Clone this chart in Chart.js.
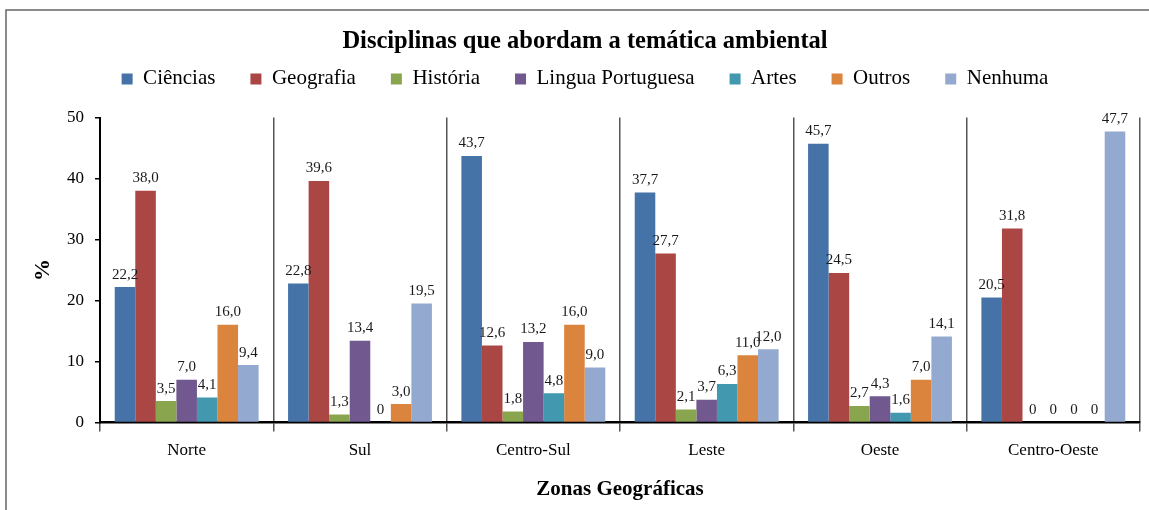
<!DOCTYPE html>
<html>
<head>
<meta charset="utf-8">
<script src="https://cdn.jsdelivr.net/npm/chart.js@4"></script>
<style>
  body { margin: 0; background: #fff; }
  #wrap { width: 1149px; height: 510px; position: relative; }
</style>
</head>
<body>
<div id="wrap"><canvas id="myChart" width="1149" height="510"></canvas></div>
<script>
const zonas = ['Norte', 'Sul', 'Centro-Sul', 'Leste', 'Oeste', 'Centro-Oeste'];
const ciencias = [22.2, 22.8, 43.7, 37.7, 45.7, 20.5];
const geografia = [38.0, 39.6, 12.6, 27.7, 24.5, 31.8];
const historia = [3.5, 1.3, 1.8, 2.1, 2.7, 0];
const linguaPortuguesa = [7.0, 13.4, 13.2, 3.7, 4.3, 0];
const artes = [4.1, 0, 4.8, 6.3, 1.6, 0];
const outros = [16.0, 3.0, 16.0, 11.0, 7.0, 0];
const nenhuma = [9.4, 19.5, 9.0, 12.0, 14.1, 47.7];
const yTicks = [0, 10, 20, 30, 40, 50];

const serif = 'Liberation Serif';

// frame around the whole chart
const framePlugin = {
  id: 'frame',
  beforeDraw(chart) {
    const c = chart.ctx;
    c.save();
    c.fillStyle = '#fff';
    c.fillRect(0, 0, chart.width, chart.height);
    c.strokeStyle = '#666';
    c.lineWidth = 1.5;
    c.strokeRect(6, 10, chart.width + 10, chart.height + 10);
    c.restore();
  }
};

// value labels above bars
const labelPlugin = {
  id: 'valueLabels',
  afterDatasetsDraw(chart) {
    const c = chart.ctx;
    c.save();
    c.font = '15px "' + serif + '"';
    c.fillStyle = '#1a1a1a';
    c.textAlign = 'center';
    c.textBaseline = 'bottom';
    chart.data.datasets.forEach((ds, i) => {
      chart.getDatasetMeta(i).data.forEach((bar, j) => {
        const v = ds.data[j];
        const txt = v === 0 ? '0' : v.toFixed(1).replace('.', ',');
        c.fillText(txt, bar.x, bar.y - 5);
      });
    });
    c.restore();
  }
};

function ds(label, data, color) {
  return { label: label, data: data, backgroundColor: color, borderWidth: 0 };
}

let ctx = document.getElementById('myChart');
let myChart = new Chart(ctx, {
  type: 'bar',
  data: {
    labels: zonas,
    datasets: [
      ds('Ciências', ciencias, '#4572A7'),
      ds('Geografia', geografia, '#AA4643'),
      ds('História', historia, '#89A54E'),
      ds('Lingua Portuguesa', linguaPortuguesa, '#71588F'),
      ds('Artes', artes, '#4198AF'),
      ds('Outros', outros, '#DB843D'),
      ds('Nenhuma', nenhuma, '#93A9CF')
    ]
  },
  options: {
    responsive: false,
    animation: false,
    devicePixelRatio: 1,
    categoryPercentage: 0.83,
    barPercentage: 1,
    layout: { padding: { top: 27, right: 9, bottom: 8, left: 30 } },
    plugins: {
      title: {
        display: true,
        text: 'Disciplinas que abordam a temática ambiental',
        color: '#000',
        font: { family: serif, size: 24.5, weight: 'bold' },
        padding: { top: 0, bottom: -23 }
      },
      // empty spacer between legend and plot
      subtitle: {
        display: true,
        text: ' ',
        weight: 500,
        font: { size: 1 },
        padding: { top: 17, bottom: 0 }
      },
      legend: {
        position: 'top',
        labels: {
          color: '#000',
          font: { family: serif, size: 21 },
          boxWidth: 11,
          boxHeight: 11,
          padding: 35
        }
      },
      tooltip: { enabled: false }
    },
    scales: {
      x: {
        grid: {
          offset: true,
          color: '#555',
          lineWidth: 1.5,
          drawTicks: true,
          tickLength: 9
        },
        border: { color: '#000', width: 2.5 },
        ticks: {
          color: '#000',
          font: { family: serif, size: 17 },
          padding: 9
        },
        title: {
          display: true,
          text: 'Zonas Geográficas',
          color: '#000',
          font: { family: serif, size: 21, weight: 'bold' },
          padding: { top: 7, bottom: 0 }
        }
      },
      y: {
        min: 0,
        max: 50,
        afterBuildTicks(scale) {
          scale.ticks = yTicks.map(v => ({ value: v }));
        },
        afterFit(scale) { scale.width = 70; },
        grid: {
          drawOnChartArea: false,
          color: '#000',
          lineWidth: 1.5,
          tickLength: 5
        },
        border: { color: '#000', width: 2 },
        ticks: {
          color: '#000',
          font: { family: serif, size: 17 },
          padding: 11
        },
        title: {
          display: true,
          text: '%',
          color: '#000',
          font: { family: serif, size: 22, weight: 'bold' },
          padding: { top: 0, bottom: 0 }
        }
      }
    }
  },
  plugins: [framePlugin, labelPlugin]
});
</script>
</body>
</html>
